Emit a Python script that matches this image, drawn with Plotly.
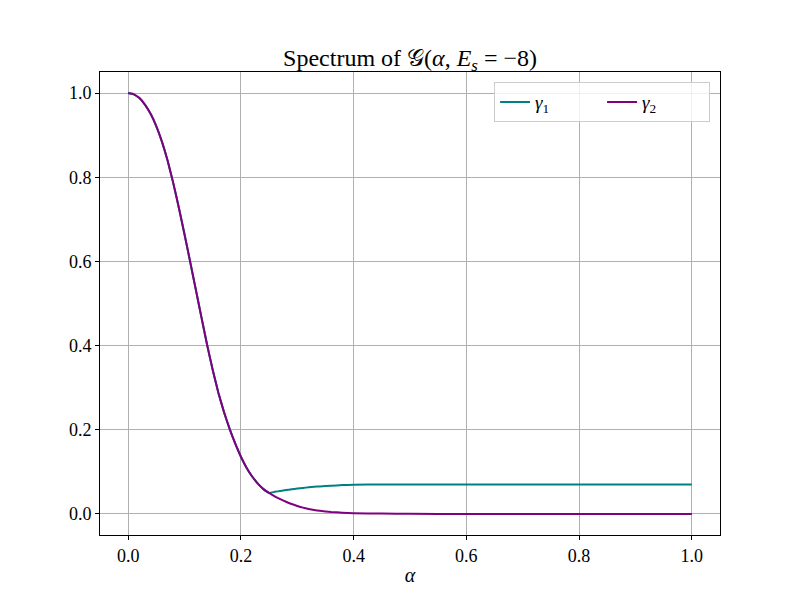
import plotly.graph_objects as go

# values
alpha = [0.00, 0.01, 0.02, 0.03, 0.04, 0.05, 0.06, 0.07, 0.08, 0.09, 0.10,
         0.11, 0.12, 0.13, 0.14, 0.15, 0.16, 0.17, 0.18, 0.19, 0.20,
         0.21, 0.22, 0.23, 0.24, 0.25, 0.26, 0.27, 0.28, 0.29, 0.30,
         0.31, 0.32, 0.33, 0.34, 0.36, 0.38, 0.40, 0.45, 0.50, 0.60,
         0.70, 0.80, 0.90, 1.00]
gamma2 = [1.000, 0.997, 0.988, 0.972, 0.950, 0.921, 0.884, 0.839, 0.786, 0.727, 0.664,
          0.599, 0.533, 0.467, 0.402, 0.342, 0.288, 0.242, 0.202, 0.167, 0.136,
          0.110, 0.089, 0.072, 0.059, 0.050, 0.042, 0.035, 0.029, 0.0235, 0.019,
          0.015, 0.012, 0.0095, 0.0075, 0.0047, 0.003, 0.0019, 0.0008, 0.0003, 0.0,
          0.0, 0.0, 0.0, 0.0]
gamma1 = [1.000, 0.997, 0.988, 0.972, 0.950, 0.921, 0.884, 0.839, 0.786, 0.727, 0.664,
          0.599, 0.533, 0.467, 0.402, 0.342, 0.288, 0.242, 0.202, 0.167, 0.136,
          0.110, 0.089, 0.072, 0.059, 0.050, 0.0525, 0.0548, 0.0568, 0.0587, 0.0604,
          0.0619, 0.0632, 0.0644, 0.0655, 0.0672, 0.0685, 0.0693, 0.0700, 0.0700, 0.0700,
          0.0700, 0.0700, 0.0700, 0.0700]
xticks = [0.0, 0.2, 0.4, 0.6, 0.8, 1.0]
yticks = [0.0, 0.2, 0.4, 0.6, 0.8, 1.0]

serif = "Liberation Serif, Times New Roman, serif"

fig = go.Figure()
fig.add_trace(go.Scatter(x=alpha, y=gamma1, mode="lines", name="<i>γ</i><sub>1</sub>",
                         line=dict(color="#008080", width=2, shape="spline", smoothing=0.4)))
fig.add_trace(go.Scatter(x=alpha, y=gamma2, mode="lines", name="<i>γ</i><sub>2</sub>",
                         line=dict(color="#800080", width=2, shape="spline", smoothing=0.4)))

axis_style = dict(
    showline=True, linecolor="black", linewidth=1, mirror=True,
    ticks="outside", ticklen=4, tickcolor="black",
    showgrid=True, gridcolor="#b0b0b0", gridwidth=1,
    zeroline=False, tickformat=".1f",
    tickfont=dict(family=serif, size=18, color="black"),
)

# page body adds 8px, so the figure is a bit smaller than the window
fig.update_layout(
    width=792, height=592,
    margin=dict(l=92, r=80, t=64, b=65),
    paper_bgcolor="white", plot_bgcolor="white",
    font=dict(family=serif, color="black"),
    title=dict(text="Spectrum of 𝒢(<i>α</i>, <i>E<sub>s</sub></i> = −8)",
               x=0.5076, xanchor="center", y=0.917, yanchor="middle",
               font=dict(family=serif, size=24, color="black")),
    xaxis=dict(range=[-0.05, 1.05], tickvals=xticks,
               title=dict(text="<i>α</i>", font=dict(family=serif, size=20), standoff=3),
               **axis_style),
    yaxis=dict(range=[-0.05, 1.05], tickvals=yticks, **axis_style),
    legend=dict(orientation="h", x=0.984, xanchor="right", y=0.978, yanchor="top",
                bgcolor="rgba(255,255,255,0.8)", bordercolor="#cccccc", borderwidth=1,
                entrywidth=62, entrywidthmode="pixels",
                font=dict(family=serif, size=19, color="black")),
)

fig.write_html("out.html")
